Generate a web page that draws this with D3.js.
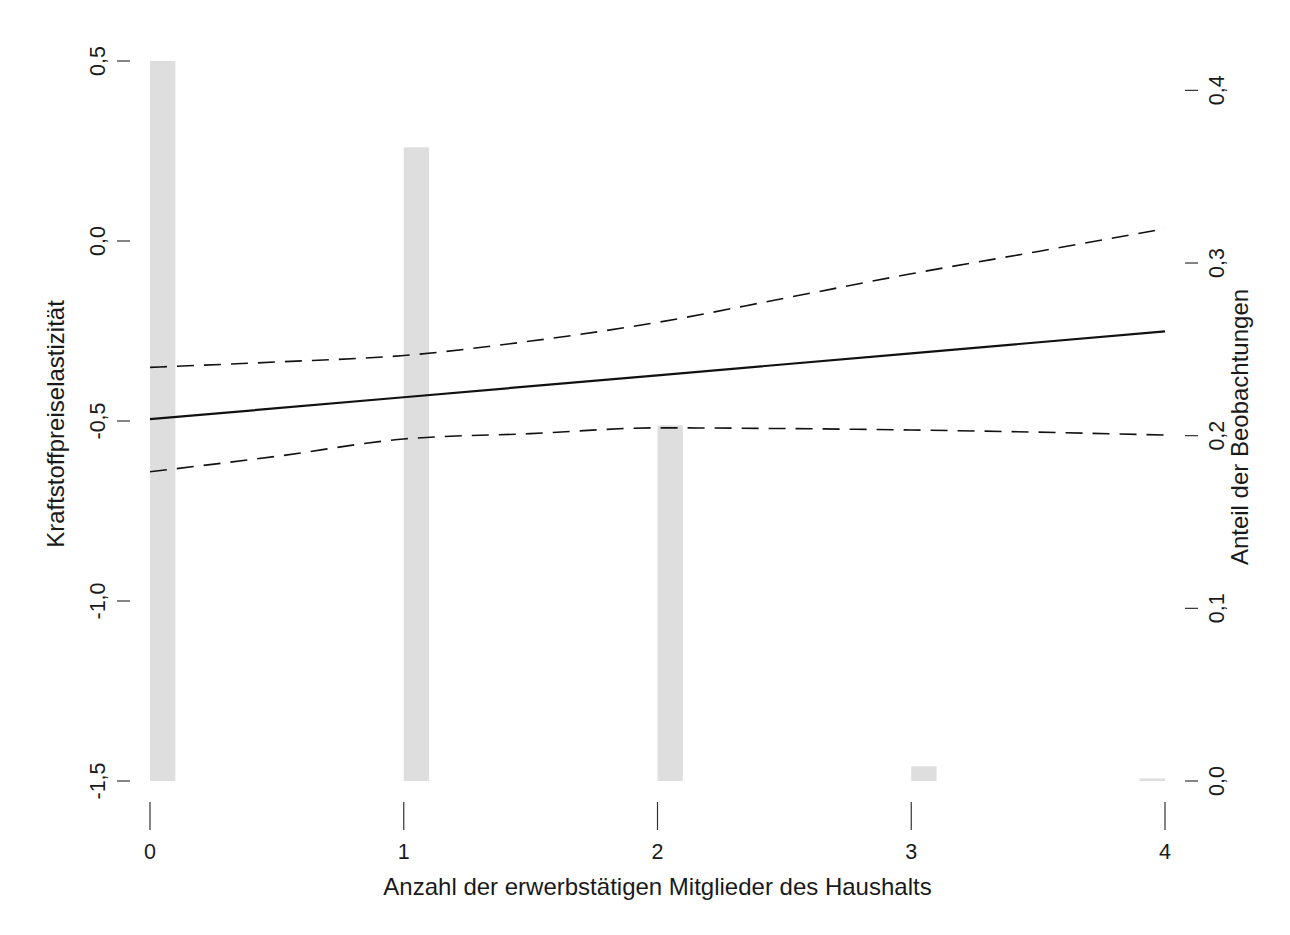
<!DOCTYPE html>
<html>
<head>
<meta charset="utf-8">
<script src="https://cdn.jsdelivr.net/npm/d3@7"></script>
<style>
  html, body { margin: 0; padding: 0; background: #ffffff; }
  svg { display: block; }
  text { font-family: "Liberation Sans", Arial, sans-serif; fill: #1a1a1a; }
</style>
</head>
<body>
<svg id="chart" width="1290" height="935"></svg>
<script>
// Number of employed household members (x) and share of observations per group
const members = [0, 1, 2, 3, 4];
const shares = [0.417, 0.367, 0.206, 0.0085, 0.0015];

// Estimated fuel price elasticity (solid line)
const estX = [0, 1, 2, 3, 4];
const estimate = [-0.495, -0.434, -0.373, -0.312, -0.251];

// Confidence band (dashed lines)
const bandX = [0, 0.5, 1, 1.5, 2, 2.5, 3, 3.5, 4];
const upper = [-0.351, -0.336, -0.318, -0.278, -0.226, -0.159, -0.091, -0.029, 0.034];
const lower = [-0.641, -0.598, -0.550, -0.535, -0.519, -0.521, -0.525, -0.531, -0.539];

// Axis ticks
const xTicks = [0, 1, 2, 3, 4];
const leftTicks = [-1.5, -1.0, -0.5, 0.0, 0.5];
const rightTicks = [0.0, 0.1, 0.2, 0.3, 0.4];

const xTitle = "Anzahl der erwerbstätigen Mitglieder des Haushalts";
const leftTitle = "Kraftstoffpreiselastizität";
const rightTitle = "Anteil der Beobachtungen";

const de = d3.formatLocale({ decimal: ",", thousands: ".", grouping: [3], currency: ["", " €"], minus: "-" });
const fmt1 = de.format(".1f");

const tickFont = "21.5px";
const titleFont = "24px";

const svg = d3.select("#chart");
const plot = { left: 150, right: 1165, top: 61, bottom: 781 };

const x = d3.scaleLinear().domain([0, 4]).range([plot.left, plot.right]);
const yL = d3.scaleLinear().domain([-1.5, 0.5]).range([plot.bottom, plot.top]);
const yR = d3.scaleLinear().domain([0, d3.max(shares)]).range([plot.bottom, plot.top]);

const barW = 0.1;
const xMax = x.domain()[1];

// Histogram bars of observation shares (right axis)
svg.append("g")
  .selectAll("rect")
  .data(members.map((m, i) => ({ m, s: shares[i] })))
  .join("rect")
  .attr("x", d => x(Math.min(d.m, xMax - barW)))
  .attr("width", d => x(Math.min(d.m, xMax - barW) + barW) - x(Math.min(d.m, xMax - barW)))
  .attr("y", d => yR(d.s))
  .attr("height", d => yR(0) - yR(d.s))
  .attr("fill", "#dedede");

// Lines
const line = d3.line().x(d => x(d[0])).y(d => yL(d[1]));
const smooth = d3.line().x(d => x(d[0])).y(d => yL(d[1])).curve(d3.curveMonotoneX);

svg.append("path")
  .datum(estX.map((v, i) => [v, estimate[i]]))
  .attr("d", line)
  .attr("fill", "none")
  .attr("stroke", "#111")
  .attr("stroke-width", 2.2);

[upper, lower].forEach(series => {
  svg.append("path")
    .datum(bandX.map((v, i) => [v, series[i]]))
    .attr("d", smooth)
    .attr("fill", "none")
    .attr("stroke", "#111")
    .attr("stroke-width", 1.6)
    .attr("stroke-dasharray", "17,10");
});

// Bottom axis
const bx = svg.append("g");
bx.selectAll("line").data(xTicks).join("line")
  .attr("x1", d => x(d)).attr("x2", d => x(d))
  .attr("y1", 802).attr("y2", 830)
  .attr("stroke", "#333").attr("stroke-width", 1.2);
bx.selectAll("text").data(xTicks).join("text")
  .attr("x", d => x(d)).attr("y", 859)
  .attr("text-anchor", "middle")
  .style("font-size", tickFont)
  .text(d => d);
svg.append("text")
  .attr("x", (plot.left + plot.right) / 2).attr("y", 895)
  .attr("text-anchor", "middle")
  .style("font-size", titleFont)
  .text(xTitle);

// Left axis
const ly = svg.append("g");
ly.selectAll("line").data(leftTicks).join("line")
  .attr("x1", 117).attr("x2", 130)
  .attr("y1", d => yL(d)).attr("y2", d => yL(d))
  .attr("stroke", "#333").attr("stroke-width", 1.2);
ly.selectAll("text").data(leftTicks).join("text")
  .attr("transform", d => `translate(105,${yL(d)}) rotate(-90)`)
  .attr("text-anchor", "middle")
  .style("font-size", tickFont)
  .text(d => fmt1(d));
svg.append("text")
  .attr("transform", `translate(64,${(plot.top + plot.bottom) / 2 + 3}) rotate(-90)`)
  .attr("text-anchor", "middle")
  .style("font-size", titleFont)
  .text(leftTitle);

// Right axis
const ry = svg.append("g");
ry.selectAll("line").data(rightTicks).join("line")
  .attr("x1", 1185).attr("x2", 1198)
  .attr("y1", d => yR(d)).attr("y2", d => yR(d))
  .attr("stroke", "#333").attr("stroke-width", 1.2);
ry.selectAll("text").data(rightTicks).join("text")
  .attr("transform", d => `translate(1224,${yR(d)}) rotate(-90)`)
  .attr("text-anchor", "middle")
  .style("font-size", tickFont)
  .text(d => fmt1(d));
svg.append("text")
  .attr("transform", `translate(1248,${(plot.top + plot.bottom) / 2 + 6}) rotate(-90)`)
  .attr("text-anchor", "middle")
  .style("font-size", titleFont)
  .text(rightTitle);
</script>
</body>
</html>
